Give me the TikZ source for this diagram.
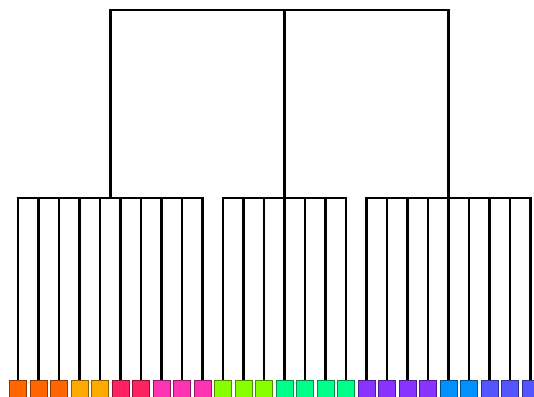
\documentclass[tikz,border=0pt]{standalone}
\usepackage{tikz}
\usetikzlibrary{positioning}
\usepackage{xcolor}
\definecolor{LeafOrange}{RGB}{255,102,0}
\definecolor{LeafAmber}{RGB}{255,170,0}
\definecolor{LeafCrimson}{RGB}{255,34,96}
\definecolor{LeafPink}{RGB}{255,51,178}
\definecolor{LeafLime}{RGB}{136,255,0}
\definecolor{LeafMint}{RGB}{0,255,136}
\definecolor{LeafViolet}{RGB}{136,51,255}
\definecolor{LeafAzure}{RGB}{0,144,255}
\definecolor{LeafSlate}{RGB}{85,85,255}

\begin{document}
\begin{tikzpicture}[x=1pt,y=-1pt,
    link/.style={line width=2.7pt,line join=miter},
    leaf/.style={draw=#1!55!black,fill=#1,line width=0.7pt,minimum size=17pt,inner sep=0pt,outer sep=0pt}]
    \useasboundingbox (0,0) rectangle (534,396);
    % inner nodes of the tree
    \coordinate (root) at (284.5,10);
    \coordinate (g1) at (110.25,198);
    \coordinate (g2) at (284.5,198);
    \coordinate (g3) at (448.5,198);
    % leaves
    \foreach \c [count=\i from 0] in {LeafOrange,LeafOrange,LeafOrange,LeafAmber,LeafAmber,LeafCrimson,LeafCrimson,LeafPink,LeafPink,LeafPink,LeafLime,LeafLime,LeafLime,LeafMint,LeafMint,LeafMint,LeafMint,LeafViolet,LeafViolet,LeafViolet,LeafViolet,LeafAzure,LeafAzure,LeafSlate,LeafSlate,LeafSlate}
        \node[leaf=\c] (l\i) at (18+20.5*\i,388.5) {};
    % links
    \draw[link] (root) -| (g1);
    \draw[link] (root) -| (g3);
    \draw[link] (root) -- (g2);
    \foreach \i in {0,...,9} \draw[link] (g1) -| (l\i.north);
    \foreach \i in {10,...,16} \draw[link] (g2) -| (l\i.north);
    \foreach \i in {17,...,25} \draw[link] (g3) -| (l\i.north);
\end{tikzpicture}
\end{document}
